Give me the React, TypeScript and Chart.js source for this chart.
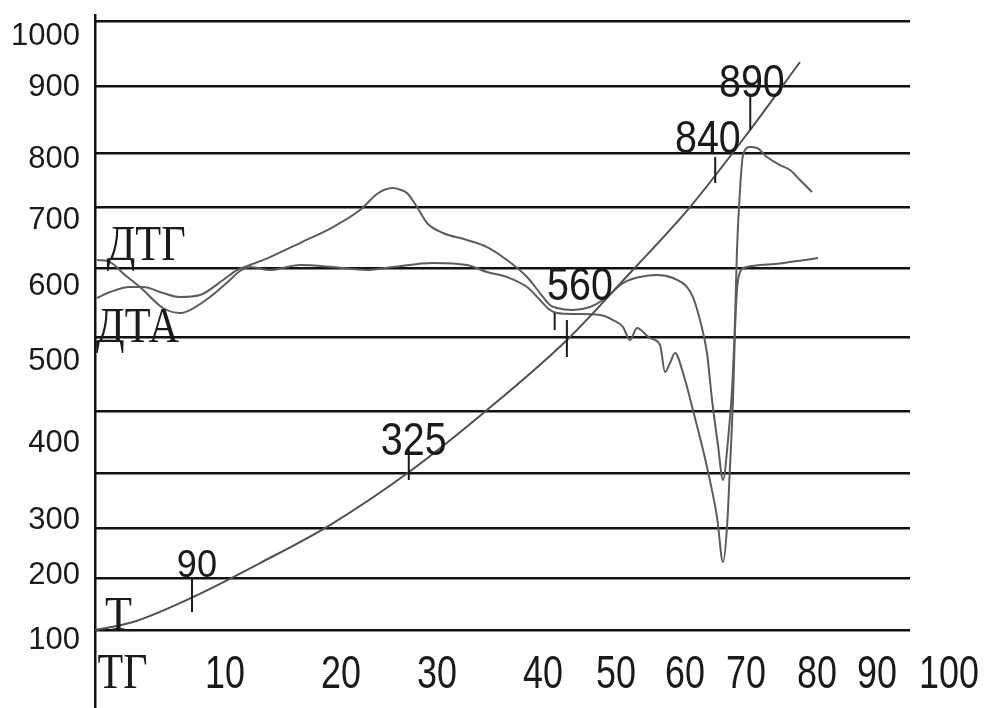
import React, { useEffect, useRef } from 'react';
import { Chart, registerables } from 'chart.js';

Chart.register(...registerables);

// ---- Temperature curve (Т)
const tempX = [0, 4.66, 12.02, 20.25, 28.83, 38.53, 48.1, 57.91, 65.64, 73.01, 80.37, 86.5];
const tempY = [100, 111.8, 148.8, 199.0, 255.2, 333.5, 425.1, 528.6, 627.6, 725.1, 838.9, 939.4];

// ---- ДТА curve
const dtaX = [0.25, 1.84, 4.29, 5.89, 8.34, 10.43, 12.88, 15.71, 17.42, 19.02, 21.47, 25.15, 29.2, 32.52, 34.6, 35.6, 36.56, 37.4, 38.28, 39.51, 40.74, 42.7, 45.64, 48.1, 50.55, 53.01, 54.6, 55.83, 56.69, 58.65, 60.74, 62.33, 64.79, 66.87, 68.96, 70.92, 72.64, 73.37, 74.23, 75.09, 75.71, 76.44, 77.06, 77.67, 78.16, 78.53, 78.77, 79.14, 79.51, 80.37, 81.23, 82.45, 84.05, 85.28, 86.5, 87.98];
const dtaY = [590.7, 599.5, 606.9, 606.9, 598.0, 592.1, 595.1, 617.3, 632.0, 639.4, 651.2, 671.9, 695.6, 720.7, 744.3, 751.0, 753.2, 751.0, 745.8, 725.1, 701.5, 686.7, 676.4, 666.0, 646.8, 621.7, 598.0, 580.3, 575.9, 572.9, 577.4, 587.7, 612.8, 621.7, 624.6, 620.2, 606.9, 592.1, 558.1, 509.4, 439.9, 373.4, 321.7, 380.8, 454.7, 558.1, 661.6, 750.3, 802.0, 813.8, 812.3, 799.0, 787.2, 779.8, 765.0, 747.3];

// ---- ДТГ curve
const dtgX = [0.25, 1.84, 3.68, 5.52, 8.34, 10.43, 11.66, 14.11, 16.56, 17.79, 19.02, 21.47, 25.15, 29.2, 33.37, 36.56, 41.47, 45.64, 48.1, 50.55, 53.01, 54.6, 55.83, 56.69, 58.9, 61.96, 63.56, 64.79, 65.64, 66.5, 68.1, 69.33, 69.94, 70.55, 71.17, 72.15, 73.37, 75.09, 76.32, 77.06, 77.55, 77.91, 78.28, 78.53, 78.77, 79.14, 80.0, 81.6, 83.44, 85.28, 87.12, 88.71];
const dtgY = [646.8, 643.8, 624.6, 606.9, 575.9, 568.5, 572.9, 592.1, 617.3, 630.6, 636.5, 632.0, 639.4, 636.5, 632.0, 636.5, 642.4, 639.4, 629.1, 621.7, 606.9, 587.7, 572.9, 568.5, 567.0, 565.5, 558.1, 547.8, 528.6, 546.3, 531.5, 521.2, 481.3, 494.6, 509.4, 479.8, 425.1, 340.9, 267.0, 200.5, 252.2, 340.9, 439.9, 543.4, 602.5, 629.1, 636.5, 639.4, 640.9, 643.8, 646.8, 649.8];

// ---- Axis ticks
const gridValues = [100, 176.8, 250.7, 332.0, 423.6, 533.0, 635.0, 725.1, 804.9, 903.9, 1000];
const yTickValues = [977.8, 902.5, 796.1, 705.5, 608.0, 497.2, 376.0, 262.2, 180.9, 85.2];
const yTickLabels = ['1000', '900', '800', '700', '600', '500', '400', '300', '200', '100'];
const xTickValues = [3.37, 15.95, 30.18, 41.96, 54.97, 63.93, 72.39, 79.88, 88.59, 95.95, 104.79];
const xTickLabels = ['ТГ', '10', '20', '30', '40', '50', '60', '70', '80', '90', '100'];
const xTickBaseline = 14.3;

// ---- Temperature markers on the Т curve
const markerLabels = ['90', '325', '560', '840', '890'];
const markerX = [11.9, 38.5, 57.9, 76.1, 80.4];
const markerTop = [178.3, 366.0, 558.1, 799.0, 887.7];
const markerBottom = [126.6, 321.7, 503.5, 760.6, 838.9];
const markerTextX = [12.5, 39.1, 59.5, 75.2, 80.6];
const markerTextY = [178.3, 358.6, 587.7, 804.9, 887.7];
const smallStemX = [56.4];
const smallStemTop = [568.5];
const smallStemBottom = [543.4];

// ---- Curve labels
const curveLabels = ['ДТГ', 'ДТА', 'Т'];
const curveLabelX = [6.26, 5.21, 2.88];
const curveLabelY = [646.8, 525.6, 100];

const Y_MIN = -15.2;
const Y_MAX = 1008.9;

const zip = (xs: number[], ys: number[]) => xs.map((x, i) => ({ x, y: ys[i] }));

const INK = '#1a1a1a';
const CURVE = '#5c5c5c';

function drawText(ctx: CanvasRenderingContext2D, text: string, px: number, py: number, font: string, sx: number) {
  ctx.save();
  ctx.translate(px, py);
  ctx.scale(sx, 1);
  ctx.font = font;
  ctx.textAlign = 'center';
  ctx.textBaseline = 'alphabetic';
  ctx.fillStyle = INK;
  ctx.fillText(text, 0, 0);
  ctx.restore();
}

const annotationPlugin = {
  id: 'thermoAnnotations',
  afterDraw(chart: any) {
    const ctx: CanvasRenderingContext2D = chart.ctx;
    const xs = chart.scales.x;
    const ys = chart.scales.y;
    const sans = "'Liberation Sans', Arial, sans-serif";
    const serif = "'Liberation Serif', 'Times New Roman', serif";

    ctx.save();
    ctx.strokeStyle = INK;
    ctx.lineWidth = 2;
    markerX.forEach((mx, i) => {
      const px = xs.getPixelForValue(mx);
      ctx.beginPath();
      ctx.moveTo(px, ys.getPixelForValue(markerTop[i]));
      ctx.lineTo(px, ys.getPixelForValue(markerBottom[i]));
      ctx.stroke();
    });
    smallStemX.forEach((mx, i) => {
      const px = xs.getPixelForValue(mx);
      ctx.beginPath();
      ctx.moveTo(px, ys.getPixelForValue(smallStemTop[i]));
      ctx.lineTo(px, ys.getPixelForValue(smallStemBottom[i]));
      ctx.stroke();
    });
    ctx.restore();

    markerLabels.forEach((t, i) => {
      const size = t === '90' ? 38 : 47;
      const sx = t === '90' ? 0.95 : 0.84;
      drawText(ctx, t, xs.getPixelForValue(markerTextX[i]), ys.getPixelForValue(markerTextY[i]), `${size}px ${sans}`, sx);
    });

    curveLabels.forEach((t, i) => {
      const size = t === 'Т' ? 48 : 51;
      const sx = t === 'Т' ? 0.92 : 0.83;
      drawText(ctx, t, xs.getPixelForValue(curveLabelX[i]), ys.getPixelForValue(curveLabelY[i]), `${size}px ${serif}`, sx);
    });

    xTickLabels.forEach((t, i) => {
      const isNum = /^[0-9]+$/.test(t);
      const font = isNum ? `46px ${sans}` : `50px ${serif}`;
      const sx = isNum ? 0.78 : 0.84;
      drawText(ctx, t, xs.getPixelForValue(xTickValues[i]), ys.getPixelForValue(xTickBaseline), font, sx);
    });
  },
};

export default function App() {
  const ref = useRef<HTMLCanvasElement | null>(null);

  useEffect(() => {
    if (!ref.current) return;
    const yFont = { family: "'Liberation Sans', Arial, sans-serif", size: 31 };

    const chart = new Chart(ref.current, {
      type: 'line',
      data: {
        datasets: [
          { label: 'Т', data: zip(tempX, tempY), borderColor: '#505050', borderWidth: 2, pointRadius: 0, cubicInterpolationMode: 'monotone' },
          { label: 'ДТА', data: zip(dtaX, dtaY), borderColor: CURVE, borderWidth: 2, pointRadius: 0, cubicInterpolationMode: 'monotone' },
          { label: 'ДТГ', data: zip(dtgX, dtgY), borderColor: CURVE, borderWidth: 2, pointRadius: 0, cubicInterpolationMode: 'monotone' },
        ],
      },
      options: {
        animation: false,
        responsive: false,
        layout: { padding: { top: 15, right: 77, bottom: 0, left: 0 } },
        plugins: { legend: { display: false }, tooltip: { enabled: false } },
        scales: {
          x: { type: 'linear', min: 0, max: 100, display: false },
          y: {
            type: 'linear',
            position: 'left',
            min: Y_MIN,
            max: Y_MAX,
            grid: { display: false, drawTicks: false },
            border: { display: true, color: '#111', width: 2.5 },
            ticks: {
              autoSkip: false,
              padding: 15,
              color: INK,
              font: yFont,
              callback: (_v: any, i: number) => yTickLabels[i],
            },
            afterBuildTicks: (axis: any) => {
              axis.ticks = yTickValues.map((v) => ({ value: v }));
            },
            afterFit: (axis: any) => {
              axis.width = 95;
              axis.paddingTop = 0;
              axis.paddingBottom = 0;
            },
          },
          yGrid: {
            type: 'linear',
            position: 'right',
            min: Y_MIN,
            max: Y_MAX,
            grid: { color: '#111', lineWidth: 2.5, drawTicks: false },
            border: { display: false },
            ticks: { display: false },
            afterBuildTicks: (axis: any) => {
              axis.ticks = gridValues.map((v) => ({ value: v }));
            },
            afterFit: (axis: any) => {
              axis.width = 0;
              axis.paddingTop = 0;
              axis.paddingBottom = 0;
            },
          },
        },
      } as any,
      plugins: [annotationPlugin],
    });
    return () => chart.destroy();
  }, []);

  return (
    <div style={{ position: 'absolute', left: 0, top: 0, width: 987, height: 708, background: '#fff' }}>
      <canvas ref={ref} width={987} height={708} style={{ display: 'block' }} />
    </div>
  );
}
